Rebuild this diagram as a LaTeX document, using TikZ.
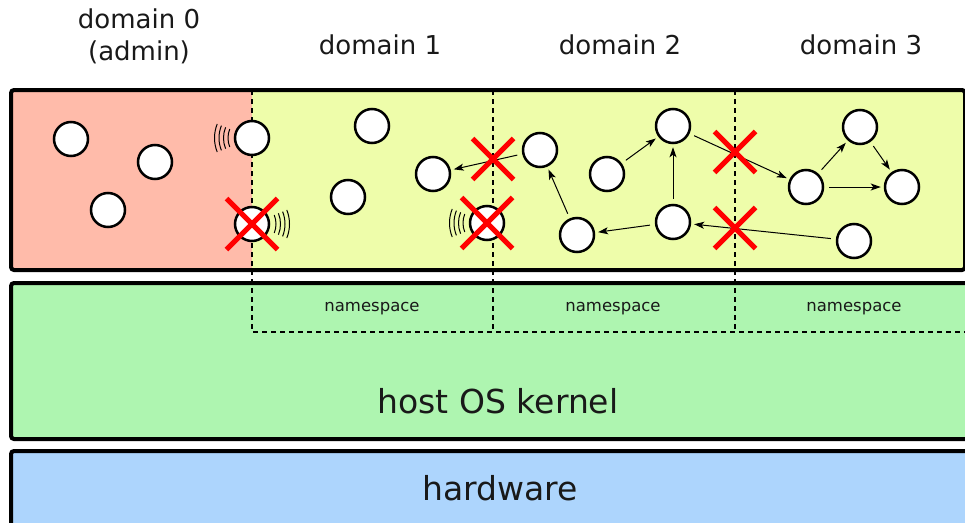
\documentclass[tikz,border=0pt]{standalone}
\usepackage{fontspec}
\setmainfont{DejaVu Sans}
\usetikzlibrary{shapes,arrows.meta}
\definecolor{adminred}{HTML}{FFBBAA}
\definecolor{guestlime}{HTML}{EEFDAA}
\definecolor{kernelgreen}{HTML}{AEF5B0}
\definecolor{hwblue}{HTML}{ADD5FD}
\tikzset{
  layer/.style    = {draw, line width=4pt, rounded corners=3pt},
  split/.style    = {line width=2pt, dash pattern=on 5pt off 4pt},
  proc/.style     = {draw, circle, fill=white, line width=2.5pt, minimum size=34pt, inner sep=0pt},
  deny/.style     = {cross out, draw=red, line width=5pt, minimum size=#1, inner sep=0pt},
  deny/.default   = 36pt,
  msg/.style      = {->, line width=1pt, shorten >=3pt, shorten <=5pt},
  wave/.style     = {line width=1pt},
  dlabel/.style   = {font=\fontsize{26}{32}\selectfont, align=center, text=black!90},
  nslabel/.style  = {font=\fontsize{16.5}{20}\selectfont, text=black!90},
  biglabel/.style = {font=\fontsize{33}{40}\selectfont, text=black!90}
}

\begin{document}
\begin{tikzpicture}[x=1pt, y=-1pt, >={Stealth[length=10pt, width=7pt, inset=2.5pt]}]
\useasboundingbox (0,0) rectangle (965,522);
\clip (0,0) rectangle (965,522);

% Layers
\fill[guestlime, rounded corners=3pt] (11,90) rectangle (965,270);
\fill[adminred] (11,90) rectangle (252,270);
\draw[layer] (11,90) rectangle (965,270);
\draw[layer, fill=kernelgreen] (11,283) rectangle (990,439);
\draw[layer, fill=hwblue] (11,451) rectangle (990,545);

% Namespace borders
\draw[split] (252,90) -- (252,332) -- (970,332);
\draw[split] (493,90) -- (493,332);
\draw[split] (735,90) -- (735,332);

% Labels
\node[dlabel] (d0) at (139,36) {domain 0\\(admin)};
\node[dlabel] (d1) at (380,45) {domain 1};
\node[dlabel] (d2) at (620,45) {domain 2};
\node[dlabel] (d3) at (861,45) {domain 3};
\node[nslabel] (ns1) at (372,309) {namespace};
\node[nslabel] (ns2) at (613,309) {namespace};
\node[nslabel] (ns3) at (854,309) {namespace};
\node[biglabel] (kern) at (498,401) {host OS kernel};
\node[biglabel] (hw) at (500,488) {hardware};

% Domain 0
\node[proc] (p0a) at (71,139) {};
\node[proc] (p0b) at (155,162) {};
\node[proc] (p0c) at (108,210) {};
\node[proc] (p0d) at (252,138) {};
\node[proc] (p0e) at (252,224) {};

% Domain 1
\node[proc] (p1a) at (372,126) {};
\node[proc] (p1b) at (433,174) {};
\node[proc] (p1c) at (348,197) {};
\node[proc] (p1d) at (487,223) {};

% Domain 2
\node[proc] (p2a) at (540,150) {};
\node[proc] (p2b) at (607,174) {};
\node[proc] (p2c) at (673,126) {};
\node[proc] (p2d) at (673,222) {};
\node[proc] (p2e) at (577,235) {};

% Domain 3
\node[proc] (p3a) at (806,187) {};
\node[proc] (p3b) at (860,127) {};
\node[proc] (p3c) at (902,187) {};
\node[proc] (p3d) at (854,241) {};

% Messages
\draw[msg] (p2a) -- (p1b);
\draw[msg] (p2e) -- (p2a);
\draw[msg] (p2b) -- (p2c);
\draw[msg] (p2d) -- (p2c);
\draw[msg] (p2d) -- (p2e);
\draw[msg] (p2c) -- (p3a);
\draw[msg] (p3d) -- (p2d);
\draw[msg] (p3a) -- (p3b);
\draw[msg] (p3b) -- (p3c);
\draw[msg] (p3a) -- (p3c);

% Signals
\foreach \r in {24,28.5,33,37.5} {
  \draw[wave] (p0d.center) ++(158:\r) arc[start angle=158, end angle=202, radius=\r];
  \draw[wave] (p0e.center) ++(-22:\r) arc[start angle=-22, end angle=22, radius=\r];
  \draw[wave] (p1d.center) ++(158:\r) arc[start angle=158, end angle=202, radius=\r];
}

% Blocked
\node[deny=46pt] (x0e) at (p0e) {};
\node[deny=46pt] (x1d) at (p1d) {};
\node[deny] (x12) at (493,159) {};
\node[deny] (x23a) at (735,152) {};
\node[deny] (x23b) at (735,228) {};

\end{tikzpicture}
\end{document}
